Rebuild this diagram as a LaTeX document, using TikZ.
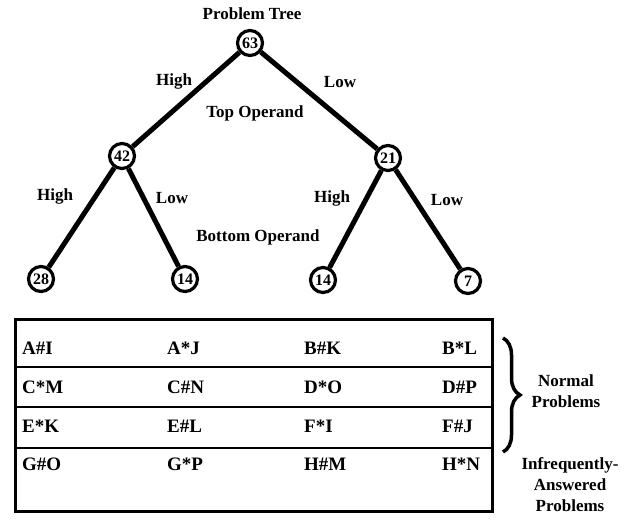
\documentclass[tikz,border=0pt]{standalone}
\usepackage{fontspec}
\setmainfont{Liberation Serif}
\usetikzlibrary{decorations.pathreplacing}

\begin{document}
\begin{tikzpicture}[x=1pt, y=-1pt, every node/.style={font=\fontsize{17}{21}\selectfont\bfseries, inner sep=1pt},
    num/.style={draw, circle, line width=3.2pt, minimum size=25pt, inner sep=0pt, font=\fontsize{16}{16}\selectfont\bfseries},
    edge/.style={line width=5pt},
    cell/.style={anchor=west, font=\fontsize{19}{21}\selectfont\bfseries}]
\useasboundingbox (0,0) rectangle (642,522);
% tree
\node (title) at (252,14) {Problem Tree};
\node[num] (n63) at (250,43) {63};
\node[num] (n42) at (122,156) {42};
\node[num] (n21) at (388,158) {21};
\node[num] (n28) at (41,279) {28};
\node[num] (n14a) at (185,279) {14};
\node[num] (n14b) at (323,280) {14};
\node[num] (n7) at (468,281) {7};
\draw[edge] (n63) -- (n42);
\draw[edge] (n63) -- (n21);
\draw[edge] (n42) -- (n28);
\draw[edge] (n42) -- (n14a);
\draw[edge] (n21) -- (n14b);
\draw[edge] (n21) -- (n7);
\node (hi1) at (174,81) {High};
\node (lo1) at (340,82) {Low};
\node (top) at (255,113) {Top Operand};
\node (hi2) at (55,196) {High};
\node (lo2) at (172,198) {Low};
\node (hi3) at (332,198) {High};
\node (lo3) at (447,200) {Low};
\node (bottom) at (258,237) {Bottom Operand};
% table
\draw[line width=3pt] (15,319) rectangle (492,511);
\draw[line width=2.5pt] (15,367) -- (492,367);
\draw[line width=2.5pt] (15,407) -- (492,407);
\draw[line width=2.5pt] (15,448) -- (492,448);
\node[cell] (a1) at (21,348) {A\#I};
\node[cell] (a2) at (166,348) {A*J};
\node[cell] (a3) at (303,348) {B\#K};
\node[cell] (a4) at (441,348) {B*L};
\node[cell] (b1) at (21,387) {C*M};
\node[cell] (b2) at (166,387) {C\#N};
\node[cell] (b3) at (303,387) {D*O};
\node[cell] (b4) at (441,387) {D\#P};
\node[cell] (c1) at (21,426) {E*K};
\node[cell] (c2) at (166,426) {E\#L};
\node[cell] (c3) at (303,426) {F*I};
\node[cell] (c4) at (441,426) {F\#J};
\node[cell] (d1) at (21,464) {G\#O};
\node[cell] (d2) at (166,464) {G*P};
\node[cell] (d3) at (303,464) {H\#M};
\node[cell] (d4) at (441,464) {H*N};
% groups
\draw[decorate, decoration={brace, amplitude=17pt}, line width=3.5pt] (503,338) -- (503,452);
\node[align=center] (normal) at (566,391) {Normal\\Problems};
\node[align=center] (rare) at (570,485) {Infrequently-\\Answered\\Problems};
\end{tikzpicture}
\end{document}
